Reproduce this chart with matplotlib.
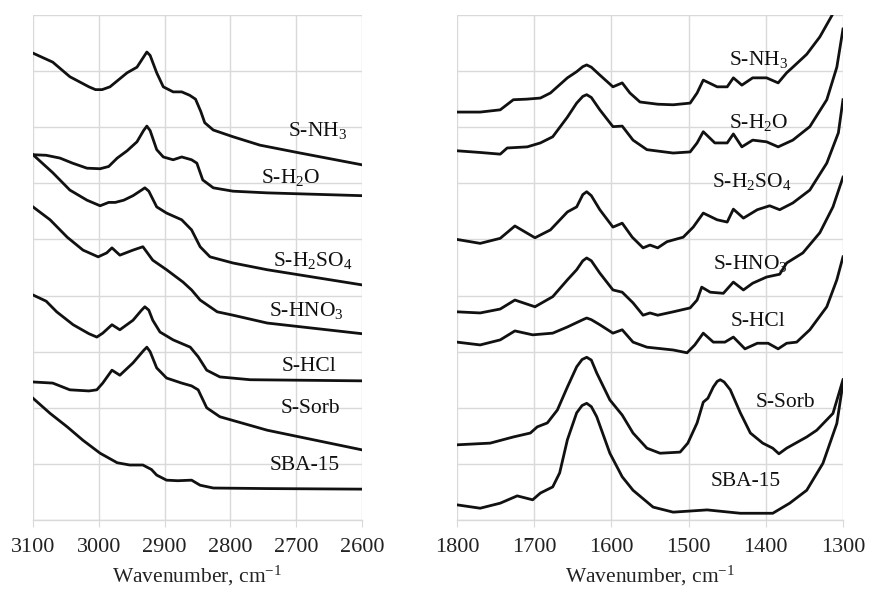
import matplotlib
matplotlib.use('Agg')
import matplotlib.pyplot as plt

plt.rcParams['font.family'] = ['Liberation Serif', 'DejaVu Serif']
plt.rcParams['mathtext.fontset'] = 'custom'
plt.rcParams['mathtext.rm'] = 'Liberation Serif'
plt.rcParams['mathtext.it'] = 'Liberation Serif:italic'

# ---- left panel (C-H stretching region) ----
nh3_l_wn = [3100, 3085, 3070, 3044, 3015, 3005, 2995, 2983, 2957, 2942, 2932, 2927,
            2922, 2912, 2902, 2887, 2874, 2862, 2853, 2845, 2839, 2826, 2796, 2755,
            2694, 2600]
nh3_l = [8.32, 8.24, 8.16, 7.90, 7.72, 7.67, 7.67, 7.72, 7.97, 8.07, 8.25, 8.34,
         8.28, 7.97, 7.72, 7.63, 7.63, 7.57, 7.50, 7.28, 7.08, 6.95, 6.83, 6.68,
         6.54, 6.33]

h2o_l_wn = [3100, 3080, 3059, 3040, 3018, 2998, 2985, 2972, 2957, 2942, 2932, 2927,
            2922, 2912, 2902, 2887, 2874, 2859, 2851, 2842, 2826, 2796, 2744, 2600]
h2o_l = [6.51, 6.50, 6.45, 6.36, 6.27, 6.26, 6.30, 6.45, 6.58, 6.74, 6.94, 7.02,
         6.94, 6.60, 6.47, 6.42, 6.47, 6.42, 6.36, 6.06, 5.92, 5.86, 5.83, 5.78]

h2so4_l_wn = [3100, 3070, 3044, 3018, 2998, 2985, 2975, 2962, 2948, 2935, 2930, 2924,
              2912, 2897, 2874, 2859, 2846, 2831, 2796, 2744, 2600]
h2so4_l = [6.51, 6.19, 5.88, 5.70, 5.60, 5.66, 5.66, 5.70, 5.78, 5.88, 5.92, 5.86,
           5.58, 5.47, 5.35, 5.17, 4.87, 4.69, 4.58, 4.46, 4.19]

hno3_l_wn = [3100, 3074, 3048, 3024, 3001, 2988, 2980, 2968, 2948, 2933, 2918, 2897,
             2872, 2859, 2846, 2820, 2796, 2744, 2600]
hno3_l = [5.58, 5.35, 5.04, 4.81, 4.69, 4.76, 4.85, 4.72, 4.81, 4.87, 4.63, 4.46,
          4.24, 4.10, 3.92, 3.71, 3.65, 3.51, 3.32]

hcl_l_wn = [3100, 3080, 3064, 3039, 3015, 3003, 2994, 2980, 2968, 2948, 2935, 2930,
            2924, 2918, 2907, 2887, 2861, 2849, 2836, 2816, 2770, 2600]
hcl_l = [4.01, 3.90, 3.71, 3.48, 3.32, 3.26, 3.33, 3.48, 3.39, 3.56, 3.74, 3.80,
         3.74, 3.56, 3.35, 3.21, 3.08, 2.91, 2.67, 2.55, 2.50, 2.48]

sorb_l_wn = [3100, 3070, 3044, 3015, 3003, 2994, 2980, 2968, 2948, 2932, 2927, 2922,
             2912, 2897, 2874, 2859, 2849, 2836, 2816, 2744, 2600]
sorb_l = [2.46, 2.44, 2.32, 2.30, 2.32, 2.44, 2.67, 2.58, 2.80, 3.02, 3.08, 3.00,
          2.71, 2.53, 2.44, 2.39, 2.32, 2.00, 1.84, 1.60, 1.25]

sba_l_wn = [3100, 3074, 3048, 3024, 2998, 2972, 2953, 2933, 2920, 2912, 2897, 2880,
            2859, 2846, 2826, 2744, 2600]
sba_l = [2.17, 1.90, 1.66, 1.42, 1.19, 1.02, 0.98, 0.98, 0.90, 0.80, 0.71, 0.70,
         0.71, 0.62, 0.57, 0.56, 0.55]

# ---- right panel (fingerprint region) ----
nh3_r_wn = [1800, 1770, 1744, 1727, 1710, 1692, 1679, 1657, 1645, 1637, 1632, 1626,
            1615, 1598, 1586, 1576, 1563, 1540, 1520, 1498, 1489, 1481, 1463, 1450,
            1442, 1431, 1417, 1399, 1384, 1373, 1365, 1347, 1330, 1314, 1305]
nh3_r = [7.27, 7.27, 7.31, 7.49, 7.50, 7.52, 7.61, 7.88, 7.99, 8.08, 8.11, 8.07,
         7.93, 7.72, 7.79, 7.61, 7.45, 7.41, 7.40, 7.43, 7.61, 7.84, 7.72, 7.72,
         7.88, 7.75, 7.88, 7.88, 7.79, 7.97, 8.07, 8.30, 8.61, 9.00, 9.30]

h2o_r_wn = [1800, 1770, 1744, 1735, 1709, 1692, 1676, 1657, 1645, 1637, 1632, 1626,
            1615, 1598, 1586, 1572, 1554, 1520, 1498, 1489, 1481, 1466, 1450, 1442,
            1431, 1417, 1399, 1384, 1365, 1343, 1321, 1308, 1300]
h2o_r = [6.58, 6.55, 6.52, 6.63, 6.65, 6.72, 6.83, 7.18, 7.43, 7.55, 7.58, 7.53,
         7.31, 7.01, 7.02, 6.77, 6.60, 6.54, 6.56, 6.72, 6.92, 6.72, 6.72, 6.88,
         6.65, 6.77, 6.74, 6.65, 6.77, 7.01, 7.49, 8.07, 8.75]

h2so4_r_wn = [1800, 1770, 1744, 1725, 1699, 1679, 1657, 1645, 1637, 1632, 1626, 1615,
              1598, 1586, 1573, 1559, 1550, 1540, 1528, 1507, 1494, 1481, 1463, 1450,
              1442, 1429, 1411, 1395, 1382, 1365, 1343, 1321, 1306, 1300]
h2so4_r = [5.00, 4.93, 5.02, 5.24, 5.03, 5.17, 5.49, 5.58, 5.80, 5.85, 5.78, 5.53,
           5.22, 5.29, 5.04, 4.85, 4.90, 4.85, 4.96, 5.04, 5.22, 5.47, 5.35, 5.31,
           5.54, 5.38, 5.53, 5.60, 5.53, 5.65, 5.88, 6.36, 6.90, 7.49]

hno3_r_wn = [1800, 1770, 1744, 1725, 1699, 1676, 1657, 1645, 1637, 1632, 1626, 1615,
             1598, 1586, 1572, 1559, 1550, 1540, 1520, 1498, 1489, 1483, 1472, 1455,
             1442, 1429, 1417, 1399, 1382, 1373, 1352, 1330, 1313, 1300]
hno3_r = [3.71, 3.69, 3.76, 3.92, 3.80, 3.98, 4.28, 4.46, 4.62, 4.67, 4.62, 4.40,
          4.10, 4.06, 3.87, 3.65, 3.69, 3.65, 3.71, 3.78, 3.92, 4.15, 4.06, 4.04,
          4.24, 4.10, 4.22, 4.33, 4.38, 4.58, 4.76, 5.12, 5.58, 6.11]

hcl_r_wn = [1800, 1770, 1744, 1725, 1702, 1676, 1657, 1637, 1632, 1626, 1615, 1598,
            1586, 1572, 1554, 1520, 1502, 1492, 1481, 1468, 1453, 1442, 1427, 1411,
            1397, 1384, 1373, 1360, 1343, 1321, 1308, 1300]
hcl_r = [3.17, 3.12, 3.21, 3.37, 3.30, 3.33, 3.44, 3.57, 3.60, 3.57, 3.48, 3.33,
         3.39, 3.17, 3.08, 3.03, 2.98, 3.12, 3.33, 3.17, 3.17, 3.26, 3.05, 3.15,
         3.15, 3.05, 3.15, 3.17, 3.39, 3.80, 4.28, 4.69]

sorb_r_wn = [1800, 1757, 1727, 1705, 1696, 1683, 1670, 1657, 1645, 1638, 1632, 1626,
             1619, 1602, 1586, 1572, 1554, 1537, 1511, 1501, 1489, 1481, 1475, 1468,
             1463, 1459, 1454, 1446, 1433, 1420, 1404, 1391, 1383, 1373, 1347, 1334,
             1313, 1300]
sorb_r = [1.34, 1.37, 1.48, 1.55, 1.66, 1.73, 1.96, 2.37, 2.73, 2.86, 2.90, 2.85,
          2.62, 2.14, 1.87, 1.55, 1.28, 1.19, 1.21, 1.37, 1.73, 2.10, 2.17, 2.37,
          2.47, 2.50, 2.46, 2.32, 1.91, 1.55, 1.37, 1.28, 1.18, 1.28, 1.48, 1.60,
          1.90, 2.50]

sba_r_wn = [1800, 1770, 1744, 1722, 1702, 1692, 1676, 1667, 1657, 1645, 1638, 1632,
            1626, 1619, 1602, 1586, 1572, 1546, 1520, 1476, 1433, 1391, 1369, 1347,
            1326, 1308, 1300]
sba_r = [0.27, 0.21, 0.30, 0.43, 0.36, 0.48, 0.59, 0.84, 1.43, 1.91, 2.04, 2.08,
         2.02, 1.84, 1.19, 0.77, 0.53, 0.23, 0.14, 0.18, 0.12, 0.12, 0.30, 0.53,
         1.01, 1.72, 2.44]

names = ['S-NH$_3$', 'S-H$_2$O', 'S-H$_2$SO$_4$', 'S-HNO$_3$', 'S-HCl', 'S-Sorb', 'SBA-15']
left_series = [(nh3_l_wn, nh3_l), (h2o_l_wn, h2o_l), (h2so4_l_wn, h2so4_l),
               (hno3_l_wn, hno3_l), (hcl_l_wn, hcl_l), (sorb_l_wn, sorb_l),
               (sba_l_wn, sba_l)]
right_series = [(nh3_r_wn, nh3_r), (h2o_r_wn, h2o_r), (h2so4_r_wn, h2so4_r),
                (hno3_r_wn, hno3_r), (hcl_r_wn, hcl_r), (sorb_r_wn, sorb_r),
                (sba_r_wn, sba_r)]
left_label_pos = [(2668, 6.95), (2709, 6.11), (2674, 4.63), (2684, 3.74),
                  (2680, 2.73), (2679, 1.99), (2687, 0.98)]
right_label_pos = [(1409, 8.20), (1409, 7.09), (1418, 6.03), (1420, 4.58),
                   (1410, 3.53), (1375, 2.09), (1426, 0.68)]

fig = plt.figure(figsize=(8.71, 5.93), dpi=100)
ax1 = fig.add_axes([33 / 871, 1 - 520 / 593, 329 / 871, 505 / 593])
ax2 = fig.add_axes([457 / 871, 1 - 520 / 593, 386 / 871, 505 / 593])

grid_col = '#d9d9d9'
for ax, series, lpos, xlim, xticks in [
        (ax1, left_series, left_label_pos, (3100, 2600), range(3100, 2599, -100)),
        (ax2, right_series, right_label_pos, (1800, 1300), range(1800, 1299, -100))]:
    for (wn, ab), name, (tx, ty) in zip(series, names, lpos):
        ax.plot(wn, ab, color='#111111', lw=2.0, solid_joinstyle='round', zorder=3)
        ax.text(tx, ty, name, ha='center', va='center', fontsize=15.5, color='#111111', zorder=4)
    ax.set_xlim(*xlim)
    ax.set_ylim(0, 9)
    ax.set_xticks(list(xticks))
    ax.set_yticks(range(10))
    ax.set_yticklabels([])
    ax.grid(True, color=grid_col, lw=1)
    for s in ['top', 'right', 'left']:
        ax.spines[s].set_visible(False)
    ax.spines['bottom'].set_color(grid_col)
    ax.spines['bottom'].set_linewidth(1)
    ax.tick_params(axis='y', length=0)
    ax.tick_params(axis='x', length=5, color=grid_col, labelsize=16, pad=8,
                   labelcolor='#222222')
    ax.set_xlabel('Wavenumber, cm$^{-1}$', fontsize=15.5, labelpad=5, color='#222222')

fig.savefig('out.png', dpi=100)
